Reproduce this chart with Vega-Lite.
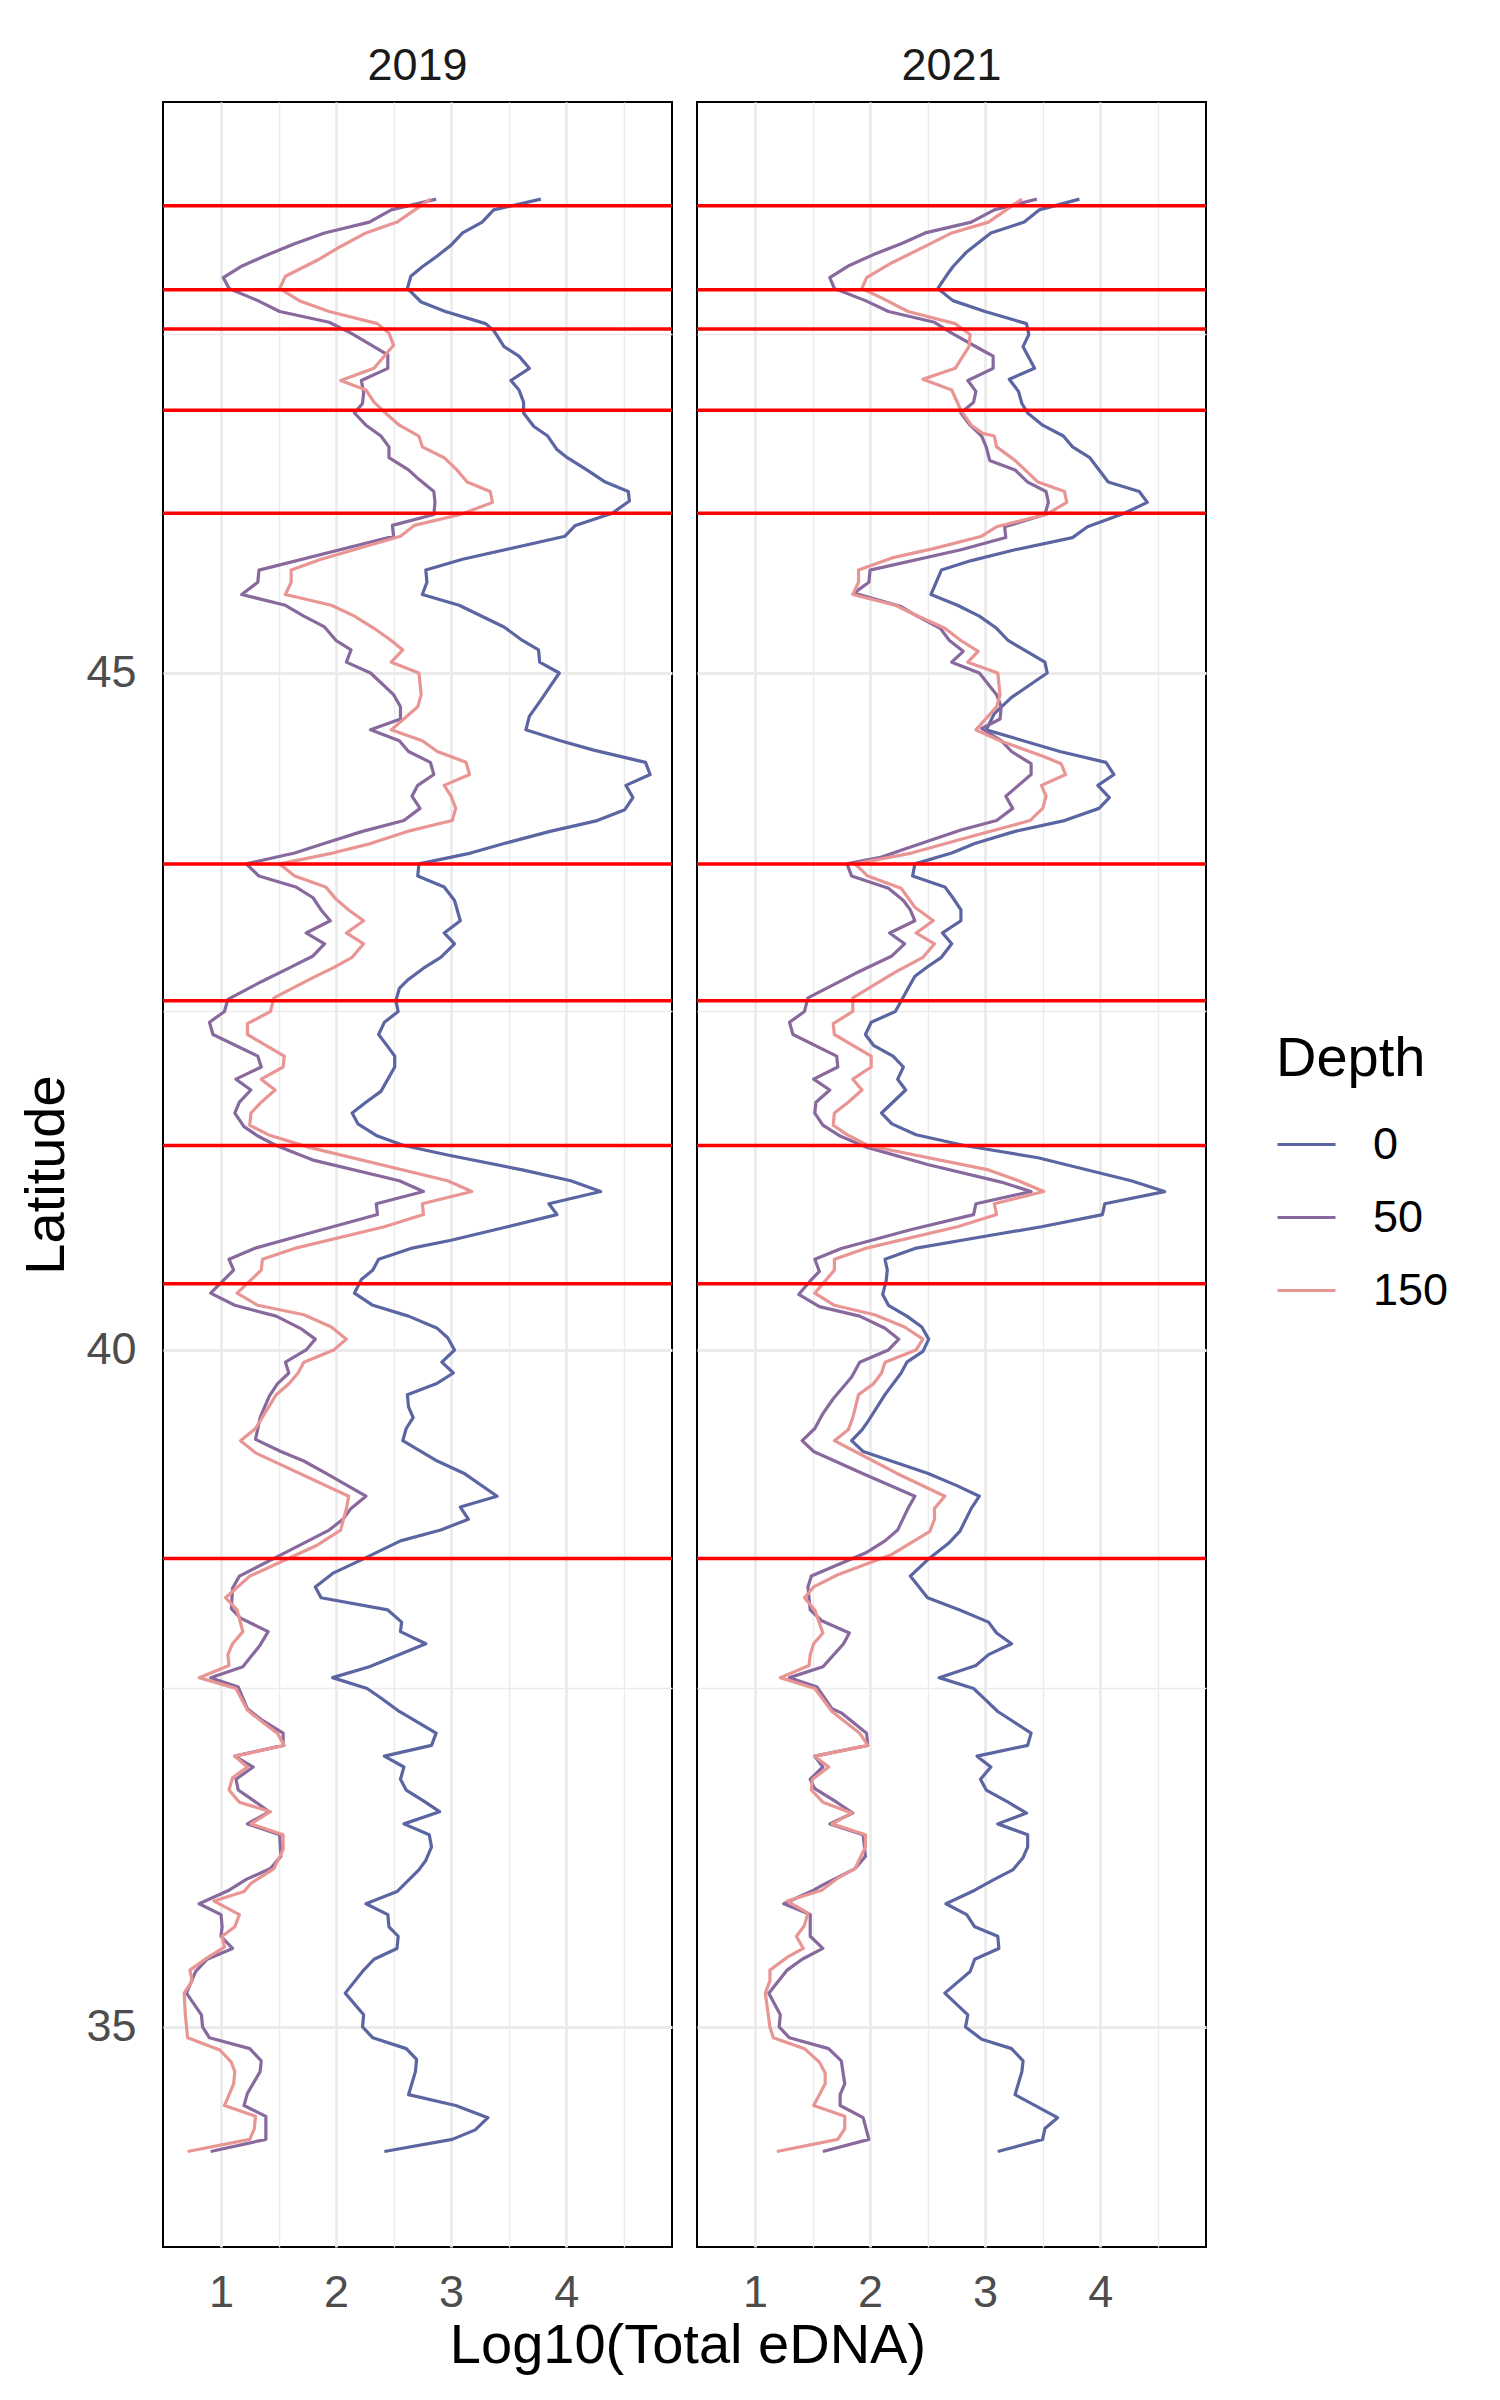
{
"$schema": "https://vega.github.io/schema/vega-lite/v6.json",
"background": "white",
"padding": {"left": 18, "top": 44, "right": 5, "bottom": 5},
"title": {"text": "Log10(Total eDNA)", "orient": "bottom", "anchor": "middle", "fontSize": 56, "fontWeight": "normal", "font": "Liberation Sans", "color": "black", "offset": 4, "dx": -46},
"data": {"values": [
{"Year":2019,"Depth":"0","Lat":48.50,"eDNA":3.78},{"Year":2019,"Depth":"0","Lat":48.42,"eDNA":3.37},{"Year":2019,"Depth":"0","Lat":48.33,"eDNA":3.27},{"Year":2019,"Depth":"0","Lat":48.25,"eDNA":3.10},{"Year":2019,"Depth":"0","Lat":48.16,"eDNA":3.00},{"Year":2019,"Depth":"0","Lat":48.08,"eDNA":2.88},{"Year":2019,"Depth":"0","Lat":48.00,"eDNA":2.75},{"Year":2019,"Depth":"0","Lat":47.93,"eDNA":2.65},{"Year":2019,"Depth":"0","Lat":47.84,"eDNA":2.62},{"Year":2019,"Depth":"0","Lat":47.74,"eDNA":2.74},{"Year":2019,"Depth":"0","Lat":47.67,"eDNA":2.95},{"Year":2019,"Depth":"0","Lat":47.58,"eDNA":3.30},{"Year":2019,"Depth":"0","Lat":47.53,"eDNA":3.37},{"Year":2019,"Depth":"0","Lat":47.41,"eDNA":3.46},{"Year":2019,"Depth":"0","Lat":47.34,"eDNA":3.59},{"Year":2019,"Depth":"0","Lat":47.25,"eDNA":3.68},{"Year":2019,"Depth":"0","Lat":47.16,"eDNA":3.52},{"Year":2019,"Depth":"0","Lat":47.09,"eDNA":3.59},{"Year":2019,"Depth":"0","Lat":47.00,"eDNA":3.63},{"Year":2019,"Depth":"0","Lat":46.92,"eDNA":3.63},{"Year":2019,"Depth":"0","Lat":46.82,"eDNA":3.72},{"Year":2019,"Depth":"0","Lat":46.75,"eDNA":3.84},{"Year":2019,"Depth":"0","Lat":46.65,"eDNA":3.92},{"Year":2019,"Depth":"0","Lat":46.59,"eDNA":4.01},{"Year":2019,"Depth":"0","Lat":46.50,"eDNA":4.18},{"Year":2019,"Depth":"0","Lat":46.41,"eDNA":4.34},{"Year":2019,"Depth":"0","Lat":46.34,"eDNA":4.54},{"Year":2019,"Depth":"0","Lat":46.27,"eDNA":4.55},{"Year":2019,"Depth":"0","Lat":46.18,"eDNA":4.40},{"Year":2019,"Depth":"0","Lat":46.09,"eDNA":4.08},{"Year":2019,"Depth":"0","Lat":46.01,"eDNA":3.99},{"Year":2019,"Depth":"0","Lat":45.84,"eDNA":3.10},{"Year":2019,"Depth":"0","Lat":45.76,"eDNA":2.78},{"Year":2019,"Depth":"0","Lat":45.67,"eDNA":2.79},{"Year":2019,"Depth":"0","Lat":45.58,"eDNA":2.75},{"Year":2019,"Depth":"0","Lat":45.50,"eDNA":3.07},{"Year":2019,"Depth":"0","Lat":45.34,"eDNA":3.46},{"Year":2019,"Depth":"0","Lat":45.24,"eDNA":3.62},{"Year":2019,"Depth":"0","Lat":45.17,"eDNA":3.76},{"Year":2019,"Depth":"0","Lat":45.08,"eDNA":3.77},{"Year":2019,"Depth":"0","Lat":45.00,"eDNA":3.94},{"Year":2019,"Depth":"0","Lat":44.80,"eDNA":3.78},{"Year":2019,"Depth":"0","Lat":44.68,"eDNA":3.68},{"Year":2019,"Depth":"0","Lat":44.58,"eDNA":3.65},{"Year":2019,"Depth":"0","Lat":44.50,"eDNA":3.95},{"Year":2019,"Depth":"0","Lat":44.43,"eDNA":4.24},{"Year":2019,"Depth":"0","Lat":44.34,"eDNA":4.69},{"Year":2019,"Depth":"0","Lat":44.25,"eDNA":4.73},{"Year":2019,"Depth":"0","Lat":44.17,"eDNA":4.52},{"Year":2019,"Depth":"0","Lat":44.08,"eDNA":4.58},{"Year":2019,"Depth":"0","Lat":43.99,"eDNA":4.51},{"Year":2019,"Depth":"0","Lat":43.91,"eDNA":4.27},{"Year":2019,"Depth":"0","Lat":43.83,"eDNA":3.86},{"Year":2019,"Depth":"0","Lat":43.74,"eDNA":3.46},{"Year":2019,"Depth":"0","Lat":43.67,"eDNA":3.17},{"Year":2019,"Depth":"0","Lat":43.59,"eDNA":2.72},{"Year":2019,"Depth":"0","Lat":43.50,"eDNA":2.71},{"Year":2019,"Depth":"0","Lat":43.42,"eDNA":2.94},{"Year":2019,"Depth":"0","Lat":43.32,"eDNA":3.03},{"Year":2019,"Depth":"0","Lat":43.17,"eDNA":3.08},{"Year":2019,"Depth":"0","Lat":43.08,"eDNA":2.94},{"Year":2019,"Depth":"0","Lat":43.00,"eDNA":3.03},{"Year":2019,"Depth":"0","Lat":42.90,"eDNA":2.91},{"Year":2019,"Depth":"0","Lat":42.82,"eDNA":2.76},{"Year":2019,"Depth":"0","Lat":42.73,"eDNA":2.62},{"Year":2019,"Depth":"0","Lat":42.67,"eDNA":2.55},{"Year":2019,"Depth":"0","Lat":42.58,"eDNA":2.52},{"Year":2019,"Depth":"0","Lat":42.50,"eDNA":2.54},{"Year":2019,"Depth":"0","Lat":42.42,"eDNA":2.42},{"Year":2019,"Depth":"0","Lat":42.33,"eDNA":2.37},{"Year":2019,"Depth":"0","Lat":42.24,"eDNA":2.45},{"Year":2019,"Depth":"0","Lat":42.17,"eDNA":2.51},{"Year":2019,"Depth":"0","Lat":42.09,"eDNA":2.51},{"Year":2019,"Depth":"0","Lat":41.91,"eDNA":2.39},{"Year":2019,"Depth":"0","Lat":41.83,"eDNA":2.26},{"Year":2019,"Depth":"0","Lat":41.75,"eDNA":2.14},{"Year":2019,"Depth":"0","Lat":41.67,"eDNA":2.19},{"Year":2019,"Depth":"0","Lat":41.58,"eDNA":2.36},{"Year":2019,"Depth":"0","Lat":41.51,"eDNA":2.59},{"Year":2019,"Depth":"0","Lat":41.44,"eDNA":2.97},{"Year":2019,"Depth":"0","Lat":41.33,"eDNA":3.62},{"Year":2019,"Depth":"0","Lat":41.25,"eDNA":4.04},{"Year":2019,"Depth":"0","Lat":41.17,"eDNA":4.30},{"Year":2019,"Depth":"0","Lat":41.08,"eDNA":3.85},{"Year":2019,"Depth":"0","Lat":41.00,"eDNA":3.92},{"Year":2019,"Depth":"0","Lat":40.91,"eDNA":3.49},{"Year":2019,"Depth":"0","Lat":40.81,"eDNA":3.00},{"Year":2019,"Depth":"0","Lat":40.75,"eDNA":2.65},{"Year":2019,"Depth":"0","Lat":40.67,"eDNA":2.37},{"Year":2019,"Depth":"0","Lat":40.59,"eDNA":2.32},{"Year":2019,"Depth":"0","Lat":40.52,"eDNA":2.22},{"Year":2019,"Depth":"0","Lat":40.42,"eDNA":2.16},{"Year":2019,"Depth":"0","Lat":40.33,"eDNA":2.32},{"Year":2019,"Depth":"0","Lat":40.25,"eDNA":2.63},{"Year":2019,"Depth":"0","Lat":40.16,"eDNA":2.88},{"Year":2019,"Depth":"0","Lat":40.09,"eDNA":2.97},{"Year":2019,"Depth":"0","Lat":40.00,"eDNA":3.03},{"Year":2019,"Depth":"0","Lat":39.91,"eDNA":2.92},{"Year":2019,"Depth":"0","Lat":39.83,"eDNA":3.02},{"Year":2019,"Depth":"0","Lat":39.75,"eDNA":2.87},{"Year":2019,"Depth":"0","Lat":39.67,"eDNA":2.62},{"Year":2019,"Depth":"0","Lat":39.58,"eDNA":2.63},{"Year":2019,"Depth":"0","Lat":39.50,"eDNA":2.67},{"Year":2019,"Depth":"0","Lat":39.42,"eDNA":2.61},{"Year":2019,"Depth":"0","Lat":39.33,"eDNA":2.58},{"Year":2019,"Depth":"0","Lat":39.18,"eDNA":2.88},{"Year":2019,"Depth":"0","Lat":39.09,"eDNA":3.11},{"Year":2019,"Depth":"0","Lat":38.92,"eDNA":3.40},{"Year":2019,"Depth":"0","Lat":38.84,"eDNA":3.08},{"Year":2019,"Depth":"0","Lat":38.75,"eDNA":3.15},{"Year":2019,"Depth":"0","Lat":38.67,"eDNA":2.91},{"Year":2019,"Depth":"0","Lat":38.59,"eDNA":2.56},{"Year":2019,"Depth":"0","Lat":38.45,"eDNA":2.22},{"Year":2019,"Depth":"0","Lat":38.35,"eDNA":1.97},{"Year":2019,"Depth":"0","Lat":38.25,"eDNA":1.82},{"Year":2019,"Depth":"0","Lat":38.17,"eDNA":1.87},{"Year":2019,"Depth":"0","Lat":38.08,"eDNA":2.45},{"Year":2019,"Depth":"0","Lat":37.99,"eDNA":2.57},{"Year":2019,"Depth":"0","Lat":37.92,"eDNA":2.56},{"Year":2019,"Depth":"0","Lat":37.83,"eDNA":2.78},{"Year":2019,"Depth":"0","Lat":37.66,"eDNA":2.29},{"Year":2019,"Depth":"0","Lat":37.58,"eDNA":1.97},{"Year":2019,"Depth":"0","Lat":37.50,"eDNA":2.27},{"Year":2019,"Depth":"0","Lat":37.43,"eDNA":2.39},{"Year":2019,"Depth":"0","Lat":37.33,"eDNA":2.55},{"Year":2019,"Depth":"0","Lat":37.17,"eDNA":2.87},{"Year":2019,"Depth":"0","Lat":37.08,"eDNA":2.83},{"Year":2019,"Depth":"0","Lat":37.00,"eDNA":2.42},{"Year":2019,"Depth":"0","Lat":36.92,"eDNA":2.59},{"Year":2019,"Depth":"0","Lat":36.83,"eDNA":2.56},{"Year":2019,"Depth":"0","Lat":36.75,"eDNA":2.61},{"Year":2019,"Depth":"0","Lat":36.67,"eDNA":2.76},{"Year":2019,"Depth":"0","Lat":36.59,"eDNA":2.90},{"Year":2019,"Depth":"0","Lat":36.50,"eDNA":2.59},{"Year":2019,"Depth":"0","Lat":36.42,"eDNA":2.81},{"Year":2019,"Depth":"0","Lat":36.33,"eDNA":2.83},{"Year":2019,"Depth":"0","Lat":36.23,"eDNA":2.78},{"Year":2019,"Depth":"0","Lat":36.16,"eDNA":2.72},{"Year":2019,"Depth":"0","Lat":36.00,"eDNA":2.53},{"Year":2019,"Depth":"0","Lat":35.91,"eDNA":2.26},{"Year":2019,"Depth":"0","Lat":35.83,"eDNA":2.45},{"Year":2019,"Depth":"0","Lat":35.74,"eDNA":2.46},{"Year":2019,"Depth":"0","Lat":35.67,"eDNA":2.54},{"Year":2019,"Depth":"0","Lat":35.58,"eDNA":2.53},{"Year":2019,"Depth":"0","Lat":35.50,"eDNA":2.33},{"Year":2019,"Depth":"0","Lat":35.41,"eDNA":2.23},{"Year":2019,"Depth":"0","Lat":35.25,"eDNA":2.08},{"Year":2019,"Depth":"0","Lat":35.09,"eDNA":2.24},{"Year":2019,"Depth":"0","Lat":35.00,"eDNA":2.23},{"Year":2019,"Depth":"0","Lat":34.92,"eDNA":2.32},{"Year":2019,"Depth":"0","Lat":34.84,"eDNA":2.61},{"Year":2019,"Depth":"0","Lat":34.76,"eDNA":2.70},{"Year":2019,"Depth":"0","Lat":34.67,"eDNA":2.69},{"Year":2019,"Depth":"0","Lat":34.50,"eDNA":2.63},{"Year":2019,"Depth":"0","Lat":34.42,"eDNA":3.04},{"Year":2019,"Depth":"0","Lat":34.33,"eDNA":3.32},{"Year":2019,"Depth":"0","Lat":34.24,"eDNA":3.21},{"Year":2019,"Depth":"0","Lat":34.17,"eDNA":3.01},{"Year":2019,"Depth":"0","Lat":34.08,"eDNA":2.42},
{"Year":2019,"Depth":"50","Lat":48.50,"eDNA":2.87},{"Year":2019,"Depth":"50","Lat":48.42,"eDNA":2.48},{"Year":2019,"Depth":"50","Lat":48.33,"eDNA":2.29},{"Year":2019,"Depth":"50","Lat":48.25,"eDNA":1.90},{"Year":2019,"Depth":"50","Lat":48.17,"eDNA":1.64},{"Year":2019,"Depth":"50","Lat":48.08,"eDNA":1.38},{"Year":2019,"Depth":"50","Lat":48.00,"eDNA":1.17},{"Year":2019,"Depth":"50","Lat":47.92,"eDNA":1.02},{"Year":2019,"Depth":"50","Lat":47.84,"eDNA":1.07},{"Year":2019,"Depth":"50","Lat":47.75,"eDNA":1.32},{"Year":2019,"Depth":"50","Lat":47.67,"eDNA":1.51},{"Year":2019,"Depth":"50","Lat":47.59,"eDNA":1.94},{"Year":2019,"Depth":"50","Lat":47.51,"eDNA":2.13},{"Year":2019,"Depth":"50","Lat":47.35,"eDNA":2.45},{"Year":2019,"Depth":"50","Lat":47.25,"eDNA":2.45},{"Year":2019,"Depth":"50","Lat":47.16,"eDNA":2.22},{"Year":2019,"Depth":"50","Lat":47.07,"eDNA":2.24},{"Year":2019,"Depth":"50","Lat":46.99,"eDNA":2.23},{"Year":2019,"Depth":"50","Lat":46.92,"eDNA":2.16},{"Year":2019,"Depth":"50","Lat":46.83,"eDNA":2.26},{"Year":2019,"Depth":"50","Lat":46.75,"eDNA":2.39},{"Year":2019,"Depth":"50","Lat":46.67,"eDNA":2.46},{"Year":2019,"Depth":"50","Lat":46.59,"eDNA":2.46},{"Year":2019,"Depth":"50","Lat":46.50,"eDNA":2.63},{"Year":2019,"Depth":"50","Lat":46.43,"eDNA":2.72},{"Year":2019,"Depth":"50","Lat":46.34,"eDNA":2.85},{"Year":2019,"Depth":"50","Lat":46.26,"eDNA":2.86},{"Year":2019,"Depth":"50","Lat":46.17,"eDNA":2.85},{"Year":2019,"Depth":"50","Lat":46.09,"eDNA":2.49},{"Year":2019,"Depth":"50","Lat":46.01,"eDNA":2.50},{"Year":2019,"Depth":"50","Lat":45.76,"eDNA":1.33},{"Year":2019,"Depth":"50","Lat":45.67,"eDNA":1.32},{"Year":2019,"Depth":"50","Lat":45.58,"eDNA":1.18},{"Year":2019,"Depth":"50","Lat":45.50,"eDNA":1.56},{"Year":2019,"Depth":"50","Lat":45.42,"eDNA":1.72},{"Year":2019,"Depth":"50","Lat":45.34,"eDNA":1.90},{"Year":2019,"Depth":"50","Lat":45.24,"eDNA":2.00},{"Year":2019,"Depth":"50","Lat":45.17,"eDNA":2.13},{"Year":2019,"Depth":"50","Lat":45.08,"eDNA":2.09},{"Year":2019,"Depth":"50","Lat":45.00,"eDNA":2.30},{"Year":2019,"Depth":"50","Lat":44.84,"eDNA":2.50},{"Year":2019,"Depth":"50","Lat":44.75,"eDNA":2.56},{"Year":2019,"Depth":"50","Lat":44.66,"eDNA":2.56},{"Year":2019,"Depth":"50","Lat":44.58,"eDNA":2.30},{"Year":2019,"Depth":"50","Lat":44.50,"eDNA":2.55},{"Year":2019,"Depth":"50","Lat":44.42,"eDNA":2.63},{"Year":2019,"Depth":"50","Lat":44.34,"eDNA":2.82},{"Year":2019,"Depth":"50","Lat":44.25,"eDNA":2.85},{"Year":2019,"Depth":"50","Lat":44.17,"eDNA":2.71},{"Year":2019,"Depth":"50","Lat":44.09,"eDNA":2.66},{"Year":2019,"Depth":"50","Lat":44.00,"eDNA":2.73},{"Year":2019,"Depth":"50","Lat":43.91,"eDNA":2.59},{"Year":2019,"Depth":"50","Lat":43.83,"eDNA":2.23},{"Year":2019,"Depth":"50","Lat":43.75,"eDNA":1.93},{"Year":2019,"Depth":"50","Lat":43.67,"eDNA":1.64},{"Year":2019,"Depth":"50","Lat":43.59,"eDNA":1.22},{"Year":2019,"Depth":"50","Lat":43.50,"eDNA":1.33},{"Year":2019,"Depth":"50","Lat":43.42,"eDNA":1.65},{"Year":2019,"Depth":"50","Lat":43.34,"eDNA":1.80},{"Year":2019,"Depth":"50","Lat":43.25,"eDNA":1.87},{"Year":2019,"Depth":"50","Lat":43.17,"eDNA":1.95},{"Year":2019,"Depth":"50","Lat":43.08,"eDNA":1.74},{"Year":2019,"Depth":"50","Lat":43.00,"eDNA":1.90},{"Year":2019,"Depth":"50","Lat":42.91,"eDNA":1.80},{"Year":2019,"Depth":"50","Lat":42.82,"eDNA":1.59},{"Year":2019,"Depth":"50","Lat":42.72,"eDNA":1.35},{"Year":2019,"Depth":"50","Lat":42.59,"eDNA":1.06},{"Year":2019,"Depth":"50","Lat":42.50,"eDNA":1.03},{"Year":2019,"Depth":"50","Lat":42.42,"eDNA":0.90},{"Year":2019,"Depth":"50","Lat":42.33,"eDNA":0.93},{"Year":2019,"Depth":"50","Lat":42.17,"eDNA":1.32},{"Year":2019,"Depth":"50","Lat":42.09,"eDNA":1.35},{"Year":2019,"Depth":"50","Lat":42.00,"eDNA":1.13},{"Year":2019,"Depth":"50","Lat":41.92,"eDNA":1.26},{"Year":2019,"Depth":"50","Lat":41.83,"eDNA":1.16},{"Year":2019,"Depth":"50","Lat":41.75,"eDNA":1.12},{"Year":2019,"Depth":"50","Lat":41.65,"eDNA":1.20},{"Year":2019,"Depth":"50","Lat":41.58,"eDNA":1.32},{"Year":2019,"Depth":"50","Lat":41.51,"eDNA":1.48},{"Year":2019,"Depth":"50","Lat":41.40,"eDNA":1.81},{"Year":2019,"Depth":"50","Lat":41.25,"eDNA":2.55},{"Year":2019,"Depth":"50","Lat":41.17,"eDNA":2.76},{"Year":2019,"Depth":"50","Lat":41.08,"eDNA":2.35},{"Year":2019,"Depth":"50","Lat":41.00,"eDNA":2.36},{"Year":2019,"Depth":"50","Lat":40.84,"eDNA":1.67},{"Year":2019,"Depth":"50","Lat":40.75,"eDNA":1.29},{"Year":2019,"Depth":"50","Lat":40.67,"eDNA":1.07},{"Year":2019,"Depth":"50","Lat":40.59,"eDNA":1.11},{"Year":2019,"Depth":"50","Lat":40.42,"eDNA":0.91},{"Year":2019,"Depth":"50","Lat":40.33,"eDNA":1.12},{"Year":2019,"Depth":"50","Lat":40.25,"eDNA":1.48},{"Year":2019,"Depth":"50","Lat":40.16,"eDNA":1.69},{"Year":2019,"Depth":"50","Lat":40.08,"eDNA":1.82},{"Year":2019,"Depth":"50","Lat":40.00,"eDNA":1.74},{"Year":2019,"Depth":"50","Lat":39.91,"eDNA":1.56},{"Year":2019,"Depth":"50","Lat":39.83,"eDNA":1.59},{"Year":2019,"Depth":"50","Lat":39.75,"eDNA":1.49},{"Year":2019,"Depth":"50","Lat":39.66,"eDNA":1.42},{"Year":2019,"Depth":"50","Lat":39.50,"eDNA":1.34},{"Year":2019,"Depth":"50","Lat":39.34,"eDNA":1.30},{"Year":2019,"Depth":"50","Lat":39.25,"eDNA":1.52},{"Year":2019,"Depth":"50","Lat":39.18,"eDNA":1.72},{"Year":2019,"Depth":"50","Lat":39.09,"eDNA":1.91},{"Year":2019,"Depth":"50","Lat":38.92,"eDNA":2.26},{"Year":2019,"Depth":"50","Lat":38.83,"eDNA":2.13},{"Year":2019,"Depth":"50","Lat":38.75,"eDNA":2.06},{"Year":2019,"Depth":"50","Lat":38.67,"eDNA":1.94},{"Year":2019,"Depth":"50","Lat":38.50,"eDNA":1.55},{"Year":2019,"Depth":"50","Lat":38.33,"eDNA":1.16},{"Year":2019,"Depth":"50","Lat":38.24,"eDNA":1.10},{"Year":2019,"Depth":"50","Lat":38.09,"eDNA":1.09},{"Year":2019,"Depth":"50","Lat":38.02,"eDNA":1.17},{"Year":2019,"Depth":"50","Lat":37.92,"eDNA":1.41},{"Year":2019,"Depth":"50","Lat":37.82,"eDNA":1.34},{"Year":2019,"Depth":"50","Lat":37.66,"eDNA":1.19},{"Year":2019,"Depth":"50","Lat":37.58,"eDNA":0.91},{"Year":2019,"Depth":"50","Lat":37.51,"eDNA":1.15},{"Year":2019,"Depth":"50","Lat":37.35,"eDNA":1.23},{"Year":2019,"Depth":"50","Lat":37.27,"eDNA":1.35},{"Year":2019,"Depth":"50","Lat":37.17,"eDNA":1.54},{"Year":2019,"Depth":"50","Lat":37.08,"eDNA":1.54},{"Year":2019,"Depth":"50","Lat":37.00,"eDNA":1.12},{"Year":2019,"Depth":"50","Lat":36.92,"eDNA":1.28},{"Year":2019,"Depth":"50","Lat":36.83,"eDNA":1.13},{"Year":2019,"Depth":"50","Lat":36.75,"eDNA":1.15},{"Year":2019,"Depth":"50","Lat":36.65,"eDNA":1.32},{"Year":2019,"Depth":"50","Lat":36.59,"eDNA":1.42},{"Year":2019,"Depth":"50","Lat":36.50,"eDNA":1.23},{"Year":2019,"Depth":"50","Lat":36.42,"eDNA":1.51},{"Year":2019,"Depth":"50","Lat":36.26,"eDNA":1.52},{"Year":2019,"Depth":"50","Lat":36.17,"eDNA":1.43},{"Year":2019,"Depth":"50","Lat":36.09,"eDNA":1.22},{"Year":2019,"Depth":"50","Lat":36.01,"eDNA":1.07},{"Year":2019,"Depth":"50","Lat":35.91,"eDNA":0.81},{"Year":2019,"Depth":"50","Lat":35.83,"eDNA":1.00},{"Year":2019,"Depth":"50","Lat":35.74,"eDNA":1.01},{"Year":2019,"Depth":"50","Lat":35.67,"eDNA":1.00},{"Year":2019,"Depth":"50","Lat":35.58,"eDNA":1.10},{"Year":2019,"Depth":"50","Lat":35.50,"eDNA":0.88},{"Year":2019,"Depth":"50","Lat":35.41,"eDNA":0.78},{"Year":2019,"Depth":"50","Lat":35.25,"eDNA":0.70},{"Year":2019,"Depth":"50","Lat":35.09,"eDNA":0.83},{"Year":2019,"Depth":"50","Lat":35.00,"eDNA":0.84},{"Year":2019,"Depth":"50","Lat":34.92,"eDNA":0.90},{"Year":2019,"Depth":"50","Lat":34.84,"eDNA":1.25},{"Year":2019,"Depth":"50","Lat":34.75,"eDNA":1.35},{"Year":2019,"Depth":"50","Lat":34.67,"eDNA":1.34},{"Year":2019,"Depth":"50","Lat":34.51,"eDNA":1.23},{"Year":2019,"Depth":"50","Lat":34.42,"eDNA":1.20},{"Year":2019,"Depth":"50","Lat":34.34,"eDNA":1.39},{"Year":2019,"Depth":"50","Lat":34.17,"eDNA":1.39},{"Year":2019,"Depth":"50","Lat":34.08,"eDNA":0.91},
{"Year":2019,"Depth":"150","Lat":48.50,"eDNA":2.82},{"Year":2019,"Depth":"150","Lat":48.33,"eDNA":2.53},{"Year":2019,"Depth":"150","Lat":48.25,"eDNA":2.26},{"Year":2019,"Depth":"150","Lat":48.15,"eDNA":2.04},{"Year":2019,"Depth":"150","Lat":48.05,"eDNA":1.84},{"Year":2019,"Depth":"150","Lat":47.93,"eDNA":1.56},{"Year":2019,"Depth":"150","Lat":47.84,"eDNA":1.51},{"Year":2019,"Depth":"150","Lat":47.75,"eDNA":1.68},{"Year":2019,"Depth":"150","Lat":47.67,"eDNA":1.94},{"Year":2019,"Depth":"150","Lat":47.58,"eDNA":2.36},{"Year":2019,"Depth":"150","Lat":47.51,"eDNA":2.46},{"Year":2019,"Depth":"150","Lat":47.42,"eDNA":2.50},{"Year":2019,"Depth":"150","Lat":47.25,"eDNA":2.33},{"Year":2019,"Depth":"150","Lat":47.16,"eDNA":2.04},{"Year":2019,"Depth":"150","Lat":47.09,"eDNA":2.26},{"Year":2019,"Depth":"150","Lat":47.00,"eDNA":2.33},{"Year":2019,"Depth":"150","Lat":46.92,"eDNA":2.43},{"Year":2019,"Depth":"150","Lat":46.83,"eDNA":2.55},{"Year":2019,"Depth":"150","Lat":46.75,"eDNA":2.72},{"Year":2019,"Depth":"150","Lat":46.67,"eDNA":2.75},{"Year":2019,"Depth":"150","Lat":46.59,"eDNA":2.94},{"Year":2019,"Depth":"150","Lat":46.50,"eDNA":3.05},{"Year":2019,"Depth":"150","Lat":46.41,"eDNA":3.14},{"Year":2019,"Depth":"150","Lat":46.34,"eDNA":3.34},{"Year":2019,"Depth":"150","Lat":46.26,"eDNA":3.36},{"Year":2019,"Depth":"150","Lat":46.17,"eDNA":3.08},{"Year":2019,"Depth":"150","Lat":46.09,"eDNA":2.68},{"Year":2019,"Depth":"150","Lat":46.01,"eDNA":2.56},{"Year":2019,"Depth":"150","Lat":45.84,"eDNA":1.87},{"Year":2019,"Depth":"150","Lat":45.76,"eDNA":1.61},{"Year":2019,"Depth":"150","Lat":45.67,"eDNA":1.61},{"Year":2019,"Depth":"150","Lat":45.58,"eDNA":1.56},{"Year":2019,"Depth":"150","Lat":45.50,"eDNA":1.96},{"Year":2019,"Depth":"150","Lat":45.42,"eDNA":2.16},{"Year":2019,"Depth":"150","Lat":45.33,"eDNA":2.33},{"Year":2019,"Depth":"150","Lat":45.24,"eDNA":2.48},{"Year":2019,"Depth":"150","Lat":45.17,"eDNA":2.58},{"Year":2019,"Depth":"150","Lat":45.08,"eDNA":2.48},{"Year":2019,"Depth":"150","Lat":45.00,"eDNA":2.72},{"Year":2019,"Depth":"150","Lat":44.84,"eDNA":2.74},{"Year":2019,"Depth":"150","Lat":44.75,"eDNA":2.71},{"Year":2019,"Depth":"150","Lat":44.58,"eDNA":2.48},{"Year":2019,"Depth":"150","Lat":44.50,"eDNA":2.75},{"Year":2019,"Depth":"150","Lat":44.42,"eDNA":2.88},{"Year":2019,"Depth":"150","Lat":44.34,"eDNA":3.13},{"Year":2019,"Depth":"150","Lat":44.25,"eDNA":3.16},{"Year":2019,"Depth":"150","Lat":44.17,"eDNA":2.94},{"Year":2019,"Depth":"150","Lat":44.09,"eDNA":3.00},{"Year":2019,"Depth":"150","Lat":44.00,"eDNA":3.04},{"Year":2019,"Depth":"150","Lat":43.91,"eDNA":3.01},{"Year":2019,"Depth":"150","Lat":43.83,"eDNA":2.62},{"Year":2019,"Depth":"150","Lat":43.74,"eDNA":2.30},{"Year":2019,"Depth":"150","Lat":43.67,"eDNA":1.97},{"Year":2019,"Depth":"150","Lat":43.59,"eDNA":1.51},{"Year":2019,"Depth":"150","Lat":43.50,"eDNA":1.64},{"Year":2019,"Depth":"150","Lat":43.42,"eDNA":1.91},{"Year":2019,"Depth":"150","Lat":43.33,"eDNA":2.00},{"Year":2019,"Depth":"150","Lat":43.25,"eDNA":2.11},{"Year":2019,"Depth":"150","Lat":43.17,"eDNA":2.24},{"Year":2019,"Depth":"150","Lat":43.08,"eDNA":2.09},{"Year":2019,"Depth":"150","Lat":43.00,"eDNA":2.24},{"Year":2019,"Depth":"150","Lat":42.90,"eDNA":2.14},{"Year":2019,"Depth":"150","Lat":42.82,"eDNA":1.97},{"Year":2019,"Depth":"150","Lat":42.75,"eDNA":1.80},{"Year":2019,"Depth":"150","Lat":42.60,"eDNA":1.46},{"Year":2019,"Depth":"150","Lat":42.50,"eDNA":1.43},{"Year":2019,"Depth":"150","Lat":42.41,"eDNA":1.23},{"Year":2019,"Depth":"150","Lat":42.33,"eDNA":1.23},{"Year":2019,"Depth":"150","Lat":42.25,"eDNA":1.39},{"Year":2019,"Depth":"150","Lat":42.17,"eDNA":1.55},{"Year":2019,"Depth":"150","Lat":42.09,"eDNA":1.54},{"Year":2019,"Depth":"150","Lat":42.00,"eDNA":1.35},{"Year":2019,"Depth":"150","Lat":41.92,"eDNA":1.47},{"Year":2019,"Depth":"150","Lat":41.83,"eDNA":1.35},{"Year":2019,"Depth":"150","Lat":41.75,"eDNA":1.26},{"Year":2019,"Depth":"150","Lat":41.66,"eDNA":1.25},{"Year":2019,"Depth":"150","Lat":41.59,"eDNA":1.41},{"Year":2019,"Depth":"150","Lat":41.50,"eDNA":1.75},{"Year":2019,"Depth":"150","Lat":41.25,"eDNA":2.97},{"Year":2019,"Depth":"150","Lat":41.17,"eDNA":3.18},{"Year":2019,"Depth":"150","Lat":41.08,"eDNA":2.75},{"Year":2019,"Depth":"150","Lat":41.00,"eDNA":2.76},{"Year":2019,"Depth":"150","Lat":40.91,"eDNA":2.42},{"Year":2019,"Depth":"150","Lat":40.75,"eDNA":1.64},{"Year":2019,"Depth":"150","Lat":40.67,"eDNA":1.36},{"Year":2019,"Depth":"150","Lat":40.59,"eDNA":1.35},{"Year":2019,"Depth":"150","Lat":40.42,"eDNA":1.14},{"Year":2019,"Depth":"150","Lat":40.33,"eDNA":1.32},{"Year":2019,"Depth":"150","Lat":40.26,"eDNA":1.72},{"Year":2019,"Depth":"150","Lat":40.17,"eDNA":1.96},{"Year":2019,"Depth":"150","Lat":40.08,"eDNA":2.09},{"Year":2019,"Depth":"150","Lat":40.00,"eDNA":1.98},{"Year":2019,"Depth":"150","Lat":39.91,"eDNA":1.72},{"Year":2019,"Depth":"150","Lat":39.83,"eDNA":1.67},{"Year":2019,"Depth":"150","Lat":39.75,"eDNA":1.59},{"Year":2019,"Depth":"150","Lat":39.67,"eDNA":1.48},{"Year":2019,"Depth":"150","Lat":39.42,"eDNA":1.30},{"Year":2019,"Depth":"150","Lat":39.33,"eDNA":1.17},{"Year":2019,"Depth":"150","Lat":39.24,"eDNA":1.30},{"Year":2019,"Depth":"150","Lat":38.92,"eDNA":2.11},{"Year":2019,"Depth":"150","Lat":38.83,"eDNA":2.09},{"Year":2019,"Depth":"150","Lat":38.67,"eDNA":2.04},{"Year":2019,"Depth":"150","Lat":38.56,"eDNA":1.84},{"Year":2019,"Depth":"150","Lat":38.33,"eDNA":1.25},{"Year":2019,"Depth":"150","Lat":38.17,"eDNA":1.04},{"Year":2019,"Depth":"150","Lat":38.08,"eDNA":1.14},{"Year":2019,"Depth":"150","Lat":37.92,"eDNA":1.19},{"Year":2019,"Depth":"150","Lat":37.83,"eDNA":1.10},{"Year":2019,"Depth":"150","Lat":37.75,"eDNA":1.06},{"Year":2019,"Depth":"150","Lat":37.67,"eDNA":1.07},{"Year":2019,"Depth":"150","Lat":37.58,"eDNA":0.81},{"Year":2019,"Depth":"150","Lat":37.50,"eDNA":1.13},{"Year":2019,"Depth":"150","Lat":37.34,"eDNA":1.23},{"Year":2019,"Depth":"150","Lat":37.24,"eDNA":1.38},{"Year":2019,"Depth":"150","Lat":37.17,"eDNA":1.49},{"Year":2019,"Depth":"150","Lat":37.08,"eDNA":1.55},{"Year":2019,"Depth":"150","Lat":37.00,"eDNA":1.12},{"Year":2019,"Depth":"150","Lat":36.92,"eDNA":1.23},{"Year":2019,"Depth":"150","Lat":36.84,"eDNA":1.10},{"Year":2019,"Depth":"150","Lat":36.75,"eDNA":1.07},{"Year":2019,"Depth":"150","Lat":36.66,"eDNA":1.16},{"Year":2019,"Depth":"150","Lat":36.59,"eDNA":1.43},{"Year":2019,"Depth":"150","Lat":36.50,"eDNA":1.26},{"Year":2019,"Depth":"150","Lat":36.42,"eDNA":1.54},{"Year":2019,"Depth":"150","Lat":36.31,"eDNA":1.54},{"Year":2019,"Depth":"150","Lat":36.17,"eDNA":1.46},{"Year":2019,"Depth":"150","Lat":36.06,"eDNA":1.26},{"Year":2019,"Depth":"150","Lat":36.00,"eDNA":1.20},{"Year":2019,"Depth":"150","Lat":35.93,"eDNA":0.94},{"Year":2019,"Depth":"150","Lat":35.83,"eDNA":1.16},{"Year":2019,"Depth":"150","Lat":35.74,"eDNA":1.12},{"Year":2019,"Depth":"150","Lat":35.67,"eDNA":1.01},{"Year":2019,"Depth":"150","Lat":35.59,"eDNA":1.03},{"Year":2019,"Depth":"150","Lat":35.51,"eDNA":0.88},{"Year":2019,"Depth":"150","Lat":35.42,"eDNA":0.73},{"Year":2019,"Depth":"150","Lat":35.34,"eDNA":0.75},{"Year":2019,"Depth":"150","Lat":35.25,"eDNA":0.68},{"Year":2019,"Depth":"150","Lat":35.09,"eDNA":0.69},{"Year":2019,"Depth":"150","Lat":34.92,"eDNA":0.71},{"Year":2019,"Depth":"150","Lat":34.83,"eDNA":0.99},{"Year":2019,"Depth":"150","Lat":34.74,"eDNA":1.09},{"Year":2019,"Depth":"150","Lat":34.67,"eDNA":1.12},{"Year":2019,"Depth":"150","Lat":34.58,"eDNA":1.11},{"Year":2019,"Depth":"150","Lat":34.42,"eDNA":1.03},{"Year":2019,"Depth":"150","Lat":34.34,"eDNA":1.30},{"Year":2019,"Depth":"150","Lat":34.25,"eDNA":1.29},{"Year":2019,"Depth":"150","Lat":34.17,"eDNA":1.25},{"Year":2019,"Depth":"150","Lat":34.08,"eDNA":0.71},
{"Year":2021,"Depth":"0","Lat":48.50,"eDNA":3.82},{"Year":2021,"Depth":"0","Lat":48.42,"eDNA":3.47},{"Year":2021,"Depth":"0","Lat":48.33,"eDNA":3.34},{"Year":2021,"Depth":"0","Lat":48.25,"eDNA":3.05},{"Year":2021,"Depth":"0","Lat":48.11,"eDNA":2.84},{"Year":2021,"Depth":"0","Lat":48.00,"eDNA":2.72},{"Year":2021,"Depth":"0","Lat":47.93,"eDNA":2.66},{"Year":2021,"Depth":"0","Lat":47.84,"eDNA":2.59},{"Year":2021,"Depth":"0","Lat":47.75,"eDNA":2.72},{"Year":2021,"Depth":"0","Lat":47.67,"eDNA":3.00},{"Year":2021,"Depth":"0","Lat":47.58,"eDNA":3.36},{"Year":2021,"Depth":"0","Lat":47.50,"eDNA":3.38},{"Year":2021,"Depth":"0","Lat":47.41,"eDNA":3.33},{"Year":2021,"Depth":"0","Lat":47.25,"eDNA":3.43},{"Year":2021,"Depth":"0","Lat":47.17,"eDNA":3.21},{"Year":2021,"Depth":"0","Lat":47.08,"eDNA":3.29},{"Year":2021,"Depth":"0","Lat":46.99,"eDNA":3.32},{"Year":2021,"Depth":"0","Lat":46.92,"eDNA":3.37},{"Year":2021,"Depth":"0","Lat":46.83,"eDNA":3.50},{"Year":2021,"Depth":"0","Lat":46.75,"eDNA":3.68},{"Year":2021,"Depth":"0","Lat":46.67,"eDNA":3.76},{"Year":2021,"Depth":"0","Lat":46.59,"eDNA":3.91},{"Year":2021,"Depth":"0","Lat":46.41,"eDNA":4.07},{"Year":2021,"Depth":"0","Lat":46.34,"eDNA":4.34},{"Year":2021,"Depth":"0","Lat":46.26,"eDNA":4.41},{"Year":2021,"Depth":"0","Lat":46.18,"eDNA":4.21},{"Year":2021,"Depth":"0","Lat":46.08,"eDNA":3.89},{"Year":2021,"Depth":"0","Lat":46.00,"eDNA":3.76},{"Year":2021,"Depth":"0","Lat":45.91,"eDNA":3.26},{"Year":2021,"Depth":"0","Lat":45.83,"eDNA":2.88},{"Year":2021,"Depth":"0","Lat":45.76,"eDNA":2.62},{"Year":2021,"Depth":"0","Lat":45.58,"eDNA":2.53},{"Year":2021,"Depth":"0","Lat":45.50,"eDNA":2.76},{"Year":2021,"Depth":"0","Lat":45.42,"eDNA":2.95},{"Year":2021,"Depth":"0","Lat":45.33,"eDNA":3.10},{"Year":2021,"Depth":"0","Lat":45.24,"eDNA":3.20},{"Year":2021,"Depth":"0","Lat":45.08,"eDNA":3.52},{"Year":2021,"Depth":"0","Lat":45.00,"eDNA":3.54},{"Year":2021,"Depth":"0","Lat":44.82,"eDNA":3.23},{"Year":2021,"Depth":"0","Lat":44.70,"eDNA":3.08},{"Year":2021,"Depth":"0","Lat":44.58,"eDNA":3.01},{"Year":2021,"Depth":"0","Lat":44.42,"eDNA":3.65},{"Year":2021,"Depth":"0","Lat":44.34,"eDNA":4.05},{"Year":2021,"Depth":"0","Lat":44.25,"eDNA":4.12},{"Year":2021,"Depth":"0","Lat":44.17,"eDNA":3.98},{"Year":2021,"Depth":"0","Lat":44.08,"eDNA":4.08},{"Year":2021,"Depth":"0","Lat":44.00,"eDNA":3.99},{"Year":2021,"Depth":"0","Lat":43.91,"eDNA":3.69},{"Year":2021,"Depth":"0","Lat":43.83,"eDNA":3.26},{"Year":2021,"Depth":"0","Lat":43.74,"eDNA":2.91},{"Year":2021,"Depth":"0","Lat":43.67,"eDNA":2.71},{"Year":2021,"Depth":"0","Lat":43.59,"eDNA":2.39},{"Year":2021,"Depth":"0","Lat":43.50,"eDNA":2.37},{"Year":2021,"Depth":"0","Lat":43.42,"eDNA":2.65},{"Year":2021,"Depth":"0","Lat":43.34,"eDNA":2.72},{"Year":2021,"Depth":"0","Lat":43.25,"eDNA":2.79},{"Year":2021,"Depth":"0","Lat":43.17,"eDNA":2.79},{"Year":2021,"Depth":"0","Lat":43.08,"eDNA":2.63},{"Year":2021,"Depth":"0","Lat":43.00,"eDNA":2.71},{"Year":2021,"Depth":"0","Lat":42.90,"eDNA":2.62},{"Year":2021,"Depth":"0","Lat":42.83,"eDNA":2.50},{"Year":2021,"Depth":"0","Lat":42.76,"eDNA":2.39},{"Year":2021,"Depth":"0","Lat":42.67,"eDNA":2.33},{"Year":2021,"Depth":"0","Lat":42.50,"eDNA":2.22},{"Year":2021,"Depth":"0","Lat":42.42,"eDNA":2.01},{"Year":2021,"Depth":"0","Lat":42.33,"eDNA":1.96},{"Year":2021,"Depth":"0","Lat":42.25,"eDNA":2.03},{"Year":2021,"Depth":"0","Lat":42.17,"eDNA":2.20},{"Year":2021,"Depth":"0","Lat":42.09,"eDNA":2.29},{"Year":2021,"Depth":"0","Lat":42.00,"eDNA":2.24},{"Year":2021,"Depth":"0","Lat":41.92,"eDNA":2.31},{"Year":2021,"Depth":"0","Lat":41.75,"eDNA":2.10},{"Year":2021,"Depth":"0","Lat":41.67,"eDNA":2.19},{"Year":2021,"Depth":"0","Lat":41.59,"eDNA":2.40},{"Year":2021,"Depth":"0","Lat":41.51,"eDNA":2.82},{"Year":2021,"Depth":"0","Lat":41.42,"eDNA":3.46},{"Year":2021,"Depth":"0","Lat":41.25,"eDNA":4.27},{"Year":2021,"Depth":"0","Lat":41.17,"eDNA":4.56},{"Year":2021,"Depth":"0","Lat":41.08,"eDNA":4.04},{"Year":2021,"Depth":"0","Lat":41.00,"eDNA":4.02},{"Year":2021,"Depth":"0","Lat":40.91,"eDNA":3.49},{"Year":2021,"Depth":"0","Lat":40.84,"eDNA":3.00},{"Year":2021,"Depth":"0","Lat":40.75,"eDNA":2.39},{"Year":2021,"Depth":"0","Lat":40.67,"eDNA":2.13},{"Year":2021,"Depth":"0","Lat":40.59,"eDNA":2.15},{"Year":2021,"Depth":"0","Lat":40.51,"eDNA":2.14},{"Year":2021,"Depth":"0","Lat":40.41,"eDNA":2.11},{"Year":2021,"Depth":"0","Lat":40.33,"eDNA":2.16},{"Year":2021,"Depth":"0","Lat":40.25,"eDNA":2.32},{"Year":2021,"Depth":"0","Lat":40.17,"eDNA":2.45},{"Year":2021,"Depth":"0","Lat":40.08,"eDNA":2.51},{"Year":2021,"Depth":"0","Lat":39.99,"eDNA":2.46},{"Year":2021,"Depth":"0","Lat":39.91,"eDNA":2.32},{"Year":2021,"Depth":"0","Lat":39.83,"eDNA":2.27},{"Year":2021,"Depth":"0","Lat":39.67,"eDNA":2.13},{"Year":2021,"Depth":"0","Lat":39.47,"eDNA":1.98},{"Year":2021,"Depth":"0","Lat":39.41,"eDNA":1.93},{"Year":2021,"Depth":"0","Lat":39.33,"eDNA":1.84},{"Year":2021,"Depth":"0","Lat":39.25,"eDNA":1.94},{"Year":2021,"Depth":"0","Lat":39.09,"eDNA":2.50},{"Year":2021,"Depth":"0","Lat":39.00,"eDNA":2.75},{"Year":2021,"Depth":"0","Lat":38.92,"eDNA":2.95},{"Year":2021,"Depth":"0","Lat":38.83,"eDNA":2.88},{"Year":2021,"Depth":"0","Lat":38.66,"eDNA":2.78},{"Year":2021,"Depth":"0","Lat":38.57,"eDNA":2.68},{"Year":2021,"Depth":"0","Lat":38.45,"eDNA":2.50},{"Year":2021,"Depth":"0","Lat":38.33,"eDNA":2.35},{"Year":2021,"Depth":"0","Lat":38.17,"eDNA":2.50},{"Year":2021,"Depth":"0","Lat":38.08,"eDNA":2.78},{"Year":2021,"Depth":"0","Lat":37.99,"eDNA":3.03},{"Year":2021,"Depth":"0","Lat":37.91,"eDNA":3.10},{"Year":2021,"Depth":"0","Lat":37.83,"eDNA":3.23},{"Year":2021,"Depth":"0","Lat":37.75,"eDNA":3.03},{"Year":2021,"Depth":"0","Lat":37.67,"eDNA":2.92},{"Year":2021,"Depth":"0","Lat":37.58,"eDNA":2.60},{"Year":2021,"Depth":"0","Lat":37.50,"eDNA":2.90},{"Year":2021,"Depth":"0","Lat":37.42,"eDNA":3.00},{"Year":2021,"Depth":"0","Lat":37.33,"eDNA":3.11},{"Year":2021,"Depth":"0","Lat":37.17,"eDNA":3.40},{"Year":2021,"Depth":"0","Lat":37.08,"eDNA":3.37},{"Year":2021,"Depth":"0","Lat":37.00,"eDNA":2.93},{"Year":2021,"Depth":"0","Lat":36.92,"eDNA":3.05},{"Year":2021,"Depth":"0","Lat":36.83,"eDNA":2.96},{"Year":2021,"Depth":"0","Lat":36.75,"eDNA":3.01},{"Year":2021,"Depth":"0","Lat":36.66,"eDNA":3.20},{"Year":2021,"Depth":"0","Lat":36.58,"eDNA":3.36},{"Year":2021,"Depth":"0","Lat":36.50,"eDNA":3.11},{"Year":2021,"Depth":"0","Lat":36.42,"eDNA":3.37},{"Year":2021,"Depth":"0","Lat":36.33,"eDNA":3.37},{"Year":2021,"Depth":"0","Lat":36.25,"eDNA":3.33},{"Year":2021,"Depth":"0","Lat":36.16,"eDNA":3.24},{"Year":2021,"Depth":"0","Lat":36.09,"eDNA":3.08},{"Year":2021,"Depth":"0","Lat":36.01,"eDNA":2.91},{"Year":2021,"Depth":"0","Lat":35.91,"eDNA":2.66},{"Year":2021,"Depth":"0","Lat":35.83,"eDNA":2.84},{"Year":2021,"Depth":"0","Lat":35.74,"eDNA":2.91},{"Year":2021,"Depth":"0","Lat":35.67,"eDNA":3.11},{"Year":2021,"Depth":"0","Lat":35.58,"eDNA":3.12},{"Year":2021,"Depth":"0","Lat":35.50,"eDNA":2.91},{"Year":2021,"Depth":"0","Lat":35.41,"eDNA":2.87},{"Year":2021,"Depth":"0","Lat":35.25,"eDNA":2.65},{"Year":2021,"Depth":"0","Lat":35.09,"eDNA":2.85},{"Year":2021,"Depth":"0","Lat":35.00,"eDNA":2.83},{"Year":2021,"Depth":"0","Lat":34.91,"eDNA":2.97},{"Year":2021,"Depth":"0","Lat":34.84,"eDNA":3.23},{"Year":2021,"Depth":"0","Lat":34.75,"eDNA":3.33},{"Year":2021,"Depth":"0","Lat":34.67,"eDNA":3.32},{"Year":2021,"Depth":"0","Lat":34.50,"eDNA":3.26},{"Year":2021,"Depth":"0","Lat":34.33,"eDNA":3.63},{"Year":2021,"Depth":"0","Lat":34.25,"eDNA":3.52},{"Year":2021,"Depth":"0","Lat":34.17,"eDNA":3.50},{"Year":2021,"Depth":"0","Lat":34.08,"eDNA":3.11},
{"Year":2021,"Depth":"50","Lat":48.50,"eDNA":3.45},{"Year":2021,"Depth":"50","Lat":48.42,"eDNA":3.08},{"Year":2021,"Depth":"50","Lat":48.33,"eDNA":2.88},{"Year":2021,"Depth":"50","Lat":48.25,"eDNA":2.48},{"Year":2021,"Depth":"50","Lat":48.17,"eDNA":2.27},{"Year":2021,"Depth":"50","Lat":48.09,"eDNA":2.03},{"Year":2021,"Depth":"50","Lat":48.01,"eDNA":1.82},{"Year":2021,"Depth":"50","Lat":47.92,"eDNA":1.65},{"Year":2021,"Depth":"50","Lat":47.84,"eDNA":1.69},{"Year":2021,"Depth":"50","Lat":47.75,"eDNA":1.96},{"Year":2021,"Depth":"50","Lat":47.67,"eDNA":2.16},{"Year":2021,"Depth":"50","Lat":47.59,"eDNA":2.56},{"Year":2021,"Depth":"50","Lat":47.51,"eDNA":2.71},{"Year":2021,"Depth":"50","Lat":47.40,"eDNA":2.94},{"Year":2021,"Depth":"50","Lat":47.34,"eDNA":3.07},{"Year":2021,"Depth":"50","Lat":47.25,"eDNA":3.07},{"Year":2021,"Depth":"50","Lat":47.16,"eDNA":2.85},{"Year":2021,"Depth":"50","Lat":47.08,"eDNA":2.92},{"Year":2021,"Depth":"50","Lat":47.00,"eDNA":2.90},{"Year":2021,"Depth":"50","Lat":46.92,"eDNA":2.79},{"Year":2021,"Depth":"50","Lat":46.83,"eDNA":2.87},{"Year":2021,"Depth":"50","Lat":46.75,"eDNA":2.97},{"Year":2021,"Depth":"50","Lat":46.67,"eDNA":3.01},{"Year":2021,"Depth":"50","Lat":46.57,"eDNA":3.04},{"Year":2021,"Depth":"50","Lat":46.50,"eDNA":3.26},{"Year":2021,"Depth":"50","Lat":46.41,"eDNA":3.37},{"Year":2021,"Depth":"50","Lat":46.34,"eDNA":3.53},{"Year":2021,"Depth":"50","Lat":46.26,"eDNA":3.55},{"Year":2021,"Depth":"50","Lat":46.17,"eDNA":3.52},{"Year":2021,"Depth":"50","Lat":46.08,"eDNA":3.17},{"Year":2021,"Depth":"50","Lat":46.00,"eDNA":3.18},{"Year":2021,"Depth":"50","Lat":45.91,"eDNA":2.79},{"Year":2021,"Depth":"50","Lat":45.76,"eDNA":2.00},{"Year":2021,"Depth":"50","Lat":45.67,"eDNA":1.99},{"Year":2021,"Depth":"50","Lat":45.59,"eDNA":1.86},{"Year":2021,"Depth":"50","Lat":45.49,"eDNA":2.27},{"Year":2021,"Depth":"50","Lat":45.43,"eDNA":2.39},{"Year":2021,"Depth":"50","Lat":45.33,"eDNA":2.61},{"Year":2021,"Depth":"50","Lat":45.24,"eDNA":2.69},{"Year":2021,"Depth":"50","Lat":45.16,"eDNA":2.81},{"Year":2021,"Depth":"50","Lat":45.08,"eDNA":2.71},{"Year":2021,"Depth":"50","Lat":45.00,"eDNA":2.95},{"Year":2021,"Depth":"50","Lat":44.84,"eDNA":3.10},{"Year":2021,"Depth":"50","Lat":44.75,"eDNA":3.14},{"Year":2021,"Depth":"50","Lat":44.66,"eDNA":3.13},{"Year":2021,"Depth":"50","Lat":44.59,"eDNA":2.97},{"Year":2021,"Depth":"50","Lat":44.50,"eDNA":3.14},{"Year":2021,"Depth":"50","Lat":44.42,"eDNA":3.23},{"Year":2021,"Depth":"50","Lat":44.33,"eDNA":3.40},{"Year":2021,"Depth":"50","Lat":44.25,"eDNA":3.40},{"Year":2021,"Depth":"50","Lat":44.17,"eDNA":3.29},{"Year":2021,"Depth":"50","Lat":44.09,"eDNA":3.18},{"Year":2021,"Depth":"50","Lat":44.00,"eDNA":3.24},{"Year":2021,"Depth":"50","Lat":43.91,"eDNA":3.10},{"Year":2021,"Depth":"50","Lat":43.84,"eDNA":2.79},{"Year":2021,"Depth":"50","Lat":43.69,"eDNA":2.27},{"Year":2021,"Depth":"50","Lat":43.64,"eDNA":2.10},{"Year":2021,"Depth":"50","Lat":43.59,"eDNA":1.80},{"Year":2021,"Depth":"50","Lat":43.50,"eDNA":1.84},{"Year":2021,"Depth":"50","Lat":43.41,"eDNA":2.16},{"Year":2021,"Depth":"50","Lat":43.32,"eDNA":2.29},{"Year":2021,"Depth":"50","Lat":43.25,"eDNA":2.35},{"Year":2021,"Depth":"50","Lat":43.17,"eDNA":2.39},{"Year":2021,"Depth":"50","Lat":43.08,"eDNA":2.17},{"Year":2021,"Depth":"50","Lat":43.00,"eDNA":2.30},{"Year":2021,"Depth":"50","Lat":42.91,"eDNA":2.19},{"Year":2021,"Depth":"50","Lat":42.78,"eDNA":1.87},{"Year":2021,"Depth":"50","Lat":42.60,"eDNA":1.46},{"Year":2021,"Depth":"50","Lat":42.50,"eDNA":1.43},{"Year":2021,"Depth":"50","Lat":42.42,"eDNA":1.30},{"Year":2021,"Depth":"50","Lat":42.33,"eDNA":1.33},{"Year":2021,"Depth":"50","Lat":42.17,"eDNA":1.71},{"Year":2021,"Depth":"50","Lat":42.09,"eDNA":1.72},{"Year":2021,"Depth":"50","Lat":42.00,"eDNA":1.51},{"Year":2021,"Depth":"50","Lat":41.92,"eDNA":1.65},{"Year":2021,"Depth":"50","Lat":41.83,"eDNA":1.53},{"Year":2021,"Depth":"50","Lat":41.75,"eDNA":1.52},{"Year":2021,"Depth":"50","Lat":41.66,"eDNA":1.59},{"Year":2021,"Depth":"50","Lat":41.58,"eDNA":1.74},{"Year":2021,"Depth":"50","Lat":41.50,"eDNA":1.96},{"Year":2021,"Depth":"50","Lat":41.37,"eDNA":2.50},{"Year":2021,"Depth":"50","Lat":41.24,"eDNA":3.14},{"Year":2021,"Depth":"50","Lat":41.17,"eDNA":3.40},{"Year":2021,"Depth":"50","Lat":41.08,"eDNA":2.92},{"Year":2021,"Depth":"50","Lat":41.00,"eDNA":2.90},{"Year":2021,"Depth":"50","Lat":40.89,"eDNA":2.36},{"Year":2021,"Depth":"50","Lat":40.75,"eDNA":1.75},{"Year":2021,"Depth":"50","Lat":40.67,"eDNA":1.52},{"Year":2021,"Depth":"50","Lat":40.58,"eDNA":1.56},{"Year":2021,"Depth":"50","Lat":40.51,"eDNA":1.48},{"Year":2021,"Depth":"50","Lat":40.41,"eDNA":1.38},{"Year":2021,"Depth":"50","Lat":40.32,"eDNA":1.56},{"Year":2021,"Depth":"50","Lat":40.25,"eDNA":1.91},{"Year":2021,"Depth":"50","Lat":40.16,"eDNA":2.13},{"Year":2021,"Depth":"50","Lat":40.08,"eDNA":2.25},{"Year":2021,"Depth":"50","Lat":40.00,"eDNA":2.16},{"Year":2021,"Depth":"50","Lat":39.91,"eDNA":1.91},{"Year":2021,"Depth":"50","Lat":39.80,"eDNA":1.84},{"Year":2021,"Depth":"50","Lat":39.64,"eDNA":1.68},{"Year":2021,"Depth":"50","Lat":39.53,"eDNA":1.59},{"Year":2021,"Depth":"50","Lat":39.42,"eDNA":1.52},{"Year":2021,"Depth":"50","Lat":39.33,"eDNA":1.41},{"Year":2021,"Depth":"50","Lat":39.25,"eDNA":1.51},{"Year":2021,"Depth":"50","Lat":39.09,"eDNA":1.93},{"Year":2021,"Depth":"50","Lat":38.92,"eDNA":2.39},{"Year":2021,"Depth":"50","Lat":38.83,"eDNA":2.33},{"Year":2021,"Depth":"50","Lat":38.67,"eDNA":2.24},{"Year":2021,"Depth":"50","Lat":38.59,"eDNA":2.13},{"Year":2021,"Depth":"50","Lat":38.50,"eDNA":1.96},{"Year":2021,"Depth":"50","Lat":38.33,"eDNA":1.49},{"Year":2021,"Depth":"50","Lat":38.25,"eDNA":1.46},{"Year":2021,"Depth":"50","Lat":38.08,"eDNA":1.48},{"Year":2021,"Depth":"50","Lat":38.00,"eDNA":1.58},{"Year":2021,"Depth":"50","Lat":37.91,"eDNA":1.82},{"Year":2021,"Depth":"50","Lat":37.83,"eDNA":1.77},{"Year":2021,"Depth":"50","Lat":37.66,"eDNA":1.59},{"Year":2021,"Depth":"50","Lat":37.58,"eDNA":1.30},{"Year":2021,"Depth":"50","Lat":37.51,"eDNA":1.54},{"Year":2021,"Depth":"50","Lat":37.35,"eDNA":1.67},{"Year":2021,"Depth":"50","Lat":37.32,"eDNA":1.75},{"Year":2021,"Depth":"50","Lat":37.17,"eDNA":1.97},{"Year":2021,"Depth":"50","Lat":37.08,"eDNA":1.98},{"Year":2021,"Depth":"50","Lat":37.00,"eDNA":1.52},{"Year":2021,"Depth":"50","Lat":36.92,"eDNA":1.59},{"Year":2021,"Depth":"50","Lat":36.83,"eDNA":1.48},{"Year":2021,"Depth":"50","Lat":36.76,"eDNA":1.52},{"Year":2021,"Depth":"50","Lat":36.66,"eDNA":1.71},{"Year":2021,"Depth":"50","Lat":36.58,"eDNA":1.85},{"Year":2021,"Depth":"50","Lat":36.50,"eDNA":1.65},{"Year":2021,"Depth":"50","Lat":36.42,"eDNA":1.94},{"Year":2021,"Depth":"50","Lat":36.26,"eDNA":1.96},{"Year":2021,"Depth":"50","Lat":36.17,"eDNA":1.87},{"Year":2021,"Depth":"50","Lat":36.05,"eDNA":1.59},{"Year":2021,"Depth":"50","Lat":36.01,"eDNA":1.51},{"Year":2021,"Depth":"50","Lat":35.91,"eDNA":1.25},{"Year":2021,"Depth":"50","Lat":35.83,"eDNA":1.48},{"Year":2021,"Depth":"50","Lat":35.67,"eDNA":1.48},{"Year":2021,"Depth":"50","Lat":35.58,"eDNA":1.59},{"Year":2021,"Depth":"50","Lat":35.50,"eDNA":1.41},{"Year":2021,"Depth":"50","Lat":35.42,"eDNA":1.28},{"Year":2021,"Depth":"50","Lat":35.25,"eDNA":1.12},{"Year":2021,"Depth":"50","Lat":35.09,"eDNA":1.22},{"Year":2021,"Depth":"50","Lat":35.00,"eDNA":1.21},{"Year":2021,"Depth":"50","Lat":34.92,"eDNA":1.30},{"Year":2021,"Depth":"50","Lat":34.84,"eDNA":1.64},{"Year":2021,"Depth":"50","Lat":34.75,"eDNA":1.75},{"Year":2021,"Depth":"50","Lat":34.58,"eDNA":1.78},{"Year":2021,"Depth":"50","Lat":34.50,"eDNA":1.74},{"Year":2021,"Depth":"50","Lat":34.42,"eDNA":1.74},{"Year":2021,"Depth":"50","Lat":34.33,"eDNA":1.94},{"Year":2021,"Depth":"50","Lat":34.17,"eDNA":1.99},{"Year":2021,"Depth":"50","Lat":34.08,"eDNA":1.59},
{"Year":2021,"Depth":"150","Lat":48.50,"eDNA":3.32},{"Year":2021,"Depth":"150","Lat":48.33,"eDNA":3.03},{"Year":2021,"Depth":"150","Lat":48.25,"eDNA":2.71},{"Year":2021,"Depth":"150","Lat":48.16,"eDNA":2.50},{"Year":2021,"Depth":"150","Lat":48.03,"eDNA":2.19},{"Year":2021,"Depth":"150","Lat":47.92,"eDNA":1.97},{"Year":2021,"Depth":"150","Lat":47.84,"eDNA":1.93},{"Year":2021,"Depth":"150","Lat":47.77,"eDNA":2.10},{"Year":2021,"Depth":"150","Lat":47.67,"eDNA":2.33},{"Year":2021,"Depth":"150","Lat":47.58,"eDNA":2.74},{"Year":2021,"Depth":"150","Lat":47.50,"eDNA":2.87},{"Year":2021,"Depth":"150","Lat":47.41,"eDNA":2.86},{"Year":2021,"Depth":"150","Lat":47.25,"eDNA":2.74},{"Year":2021,"Depth":"150","Lat":47.17,"eDNA":2.46},{"Year":2021,"Depth":"150","Lat":47.09,"eDNA":2.71},{"Year":2021,"Depth":"150","Lat":46.94,"eDNA":2.79},{"Year":2021,"Depth":"150","Lat":46.83,"eDNA":2.88},{"Year":2021,"Depth":"150","Lat":46.77,"eDNA":2.98},{"Year":2021,"Depth":"150","Lat":46.75,"eDNA":3.08},{"Year":2021,"Depth":"150","Lat":46.67,"eDNA":3.10},{"Year":2021,"Depth":"150","Lat":46.57,"eDNA":3.26},{"Year":2021,"Depth":"150","Lat":46.41,"eDNA":3.46},{"Year":2021,"Depth":"150","Lat":46.34,"eDNA":3.69},{"Year":2021,"Depth":"150","Lat":46.26,"eDNA":3.71},{"Year":2021,"Depth":"150","Lat":46.17,"eDNA":3.53},{"Year":2021,"Depth":"150","Lat":46.08,"eDNA":3.10},{"Year":2021,"Depth":"150","Lat":46.01,"eDNA":2.97},{"Year":2021,"Depth":"150","Lat":45.92,"eDNA":2.56},{"Year":2021,"Depth":"150","Lat":45.85,"eDNA":2.19},{"Year":2021,"Depth":"150","Lat":45.76,"eDNA":1.90},{"Year":2021,"Depth":"150","Lat":45.67,"eDNA":1.90},{"Year":2021,"Depth":"150","Lat":45.58,"eDNA":1.85},{"Year":2021,"Depth":"150","Lat":45.50,"eDNA":2.22},{"Year":2021,"Depth":"150","Lat":45.43,"eDNA":2.39},{"Year":2021,"Depth":"150","Lat":45.33,"eDNA":2.65},{"Year":2021,"Depth":"150","Lat":45.24,"eDNA":2.79},{"Year":2021,"Depth":"150","Lat":45.16,"eDNA":2.94},{"Year":2021,"Depth":"150","Lat":45.08,"eDNA":2.85},{"Year":2021,"Depth":"150","Lat":45.00,"eDNA":3.11},{"Year":2021,"Depth":"150","Lat":44.84,"eDNA":3.13},{"Year":2021,"Depth":"150","Lat":44.75,"eDNA":3.10},{"Year":2021,"Depth":"150","Lat":44.58,"eDNA":2.92},{"Year":2021,"Depth":"150","Lat":44.50,"eDNA":3.13},{"Year":2021,"Depth":"150","Lat":44.38,"eDNA":3.52},{"Year":2021,"Depth":"150","Lat":44.33,"eDNA":3.66},{"Year":2021,"Depth":"150","Lat":44.25,"eDNA":3.70},{"Year":2021,"Depth":"150","Lat":44.17,"eDNA":3.49},{"Year":2021,"Depth":"150","Lat":44.09,"eDNA":3.53},{"Year":2021,"Depth":"150","Lat":44.00,"eDNA":3.50},{"Year":2021,"Depth":"150","Lat":43.91,"eDNA":3.39},{"Year":2021,"Depth":"150","Lat":43.80,"eDNA":2.91},{"Year":2021,"Depth":"150","Lat":43.67,"eDNA":2.36},{"Year":2021,"Depth":"150","Lat":43.59,"eDNA":1.87},{"Year":2021,"Depth":"150","Lat":43.50,"eDNA":1.98},{"Year":2021,"Depth":"150","Lat":43.41,"eDNA":2.27},{"Year":2021,"Depth":"150","Lat":43.27,"eDNA":2.39},{"Year":2021,"Depth":"150","Lat":43.17,"eDNA":2.55},{"Year":2021,"Depth":"150","Lat":43.08,"eDNA":2.40},{"Year":2021,"Depth":"150","Lat":43.00,"eDNA":2.56},{"Year":2021,"Depth":"150","Lat":42.90,"eDNA":2.46},{"Year":2021,"Depth":"150","Lat":42.79,"eDNA":2.22},{"Year":2021,"Depth":"150","Lat":42.60,"eDNA":1.85},{"Year":2021,"Depth":"150","Lat":42.50,"eDNA":1.85},{"Year":2021,"Depth":"150","Lat":42.41,"eDNA":1.68},{"Year":2021,"Depth":"150","Lat":42.33,"eDNA":1.69},{"Year":2021,"Depth":"150","Lat":42.17,"eDNA":2.01},{"Year":2021,"Depth":"150","Lat":42.09,"eDNA":2.01},{"Year":2021,"Depth":"150","Lat":42.00,"eDNA":1.85},{"Year":2021,"Depth":"150","Lat":41.92,"eDNA":1.93},{"Year":2021,"Depth":"150","Lat":41.83,"eDNA":1.81},{"Year":2021,"Depth":"150","Lat":41.75,"eDNA":1.69},{"Year":2021,"Depth":"150","Lat":41.66,"eDNA":1.68},{"Year":2021,"Depth":"150","Lat":41.59,"eDNA":1.80},{"Year":2021,"Depth":"150","Lat":41.51,"eDNA":1.98},{"Year":2021,"Depth":"150","Lat":41.33,"eDNA":3.03},{"Year":2021,"Depth":"150","Lat":41.25,"eDNA":3.29},{"Year":2021,"Depth":"150","Lat":41.17,"eDNA":3.51},{"Year":2021,"Depth":"150","Lat":41.08,"eDNA":3.08},{"Year":2021,"Depth":"150","Lat":41.00,"eDNA":3.10},{"Year":2021,"Depth":"150","Lat":40.91,"eDNA":2.76},{"Year":2021,"Depth":"150","Lat":40.75,"eDNA":1.96},{"Year":2021,"Depth":"150","Lat":40.67,"eDNA":1.69},{"Year":2021,"Depth":"150","Lat":40.59,"eDNA":1.69},{"Year":2021,"Depth":"150","Lat":40.42,"eDNA":1.52},{"Year":2021,"Depth":"150","Lat":40.33,"eDNA":1.69},{"Year":2021,"Depth":"150","Lat":40.26,"eDNA":2.04},{"Year":2021,"Depth":"150","Lat":40.17,"eDNA":2.30},{"Year":2021,"Depth":"150","Lat":40.08,"eDNA":2.46},{"Year":2021,"Depth":"150","Lat":40.00,"eDNA":2.40},{"Year":2021,"Depth":"150","Lat":39.91,"eDNA":2.13},{"Year":2021,"Depth":"150","Lat":39.83,"eDNA":2.10},{"Year":2021,"Depth":"150","Lat":39.75,"eDNA":2.03},{"Year":2021,"Depth":"150","Lat":39.67,"eDNA":1.90},{"Year":2021,"Depth":"150","Lat":39.50,"eDNA":1.85},{"Year":2021,"Depth":"150","Lat":39.41,"eDNA":1.81},{"Year":2021,"Depth":"150","Lat":39.33,"eDNA":1.69},{"Year":2021,"Depth":"150","Lat":39.25,"eDNA":1.87},{"Year":2021,"Depth":"150","Lat":39.09,"eDNA":2.23},{"Year":2021,"Depth":"150","Lat":38.92,"eDNA":2.65},{"Year":2021,"Depth":"150","Lat":38.83,"eDNA":2.56},{"Year":2021,"Depth":"150","Lat":38.75,"eDNA":2.56},{"Year":2021,"Depth":"150","Lat":38.66,"eDNA":2.52},{"Year":2021,"Depth":"150","Lat":38.49,"eDNA":2.19},{"Year":2021,"Depth":"150","Lat":38.34,"eDNA":1.72},{"Year":2021,"Depth":"150","Lat":38.25,"eDNA":1.51},{"Year":2021,"Depth":"150","Lat":38.17,"eDNA":1.43},{"Year":2021,"Depth":"150","Lat":38.08,"eDNA":1.52},{"Year":2021,"Depth":"150","Lat":37.91,"eDNA":1.59},{"Year":2021,"Depth":"150","Lat":37.83,"eDNA":1.51},{"Year":2021,"Depth":"150","Lat":37.75,"eDNA":1.48},{"Year":2021,"Depth":"150","Lat":37.67,"eDNA":1.47},{"Year":2021,"Depth":"150","Lat":37.58,"eDNA":1.22},{"Year":2021,"Depth":"150","Lat":37.50,"eDNA":1.52},{"Year":2021,"Depth":"150","Lat":37.33,"eDNA":1.67},{"Year":2021,"Depth":"150","Lat":37.17,"eDNA":1.91},{"Year":2021,"Depth":"150","Lat":37.08,"eDNA":1.98},{"Year":2021,"Depth":"150","Lat":37.00,"eDNA":1.52},{"Year":2021,"Depth":"150","Lat":36.92,"eDNA":1.64},{"Year":2021,"Depth":"150","Lat":36.83,"eDNA":1.50},{"Year":2021,"Depth":"150","Lat":36.75,"eDNA":1.49},{"Year":2021,"Depth":"150","Lat":36.66,"eDNA":1.59},{"Year":2021,"Depth":"150","Lat":36.58,"eDNA":1.84},{"Year":2021,"Depth":"150","Lat":36.50,"eDNA":1.67},{"Year":2021,"Depth":"150","Lat":36.42,"eDNA":1.96},{"Year":2021,"Depth":"150","Lat":36.33,"eDNA":1.96},{"Year":2021,"Depth":"150","Lat":36.17,"eDNA":1.87},{"Year":2021,"Depth":"150","Lat":36.10,"eDNA":1.72},{"Year":2021,"Depth":"150","Lat":36.01,"eDNA":1.58},{"Year":2021,"Depth":"150","Lat":35.93,"eDNA":1.28},{"Year":2021,"Depth":"150","Lat":35.84,"eDNA":1.46},{"Year":2021,"Depth":"150","Lat":35.75,"eDNA":1.43},{"Year":2021,"Depth":"150","Lat":35.67,"eDNA":1.36},{"Year":2021,"Depth":"150","Lat":35.58,"eDNA":1.42},{"Year":2021,"Depth":"150","Lat":35.52,"eDNA":1.29},{"Year":2021,"Depth":"150","Lat":35.42,"eDNA":1.13},{"Year":2021,"Depth":"150","Lat":35.34,"eDNA":1.13},{"Year":2021,"Depth":"150","Lat":35.25,"eDNA":1.09},{"Year":2021,"Depth":"150","Lat":35.00,"eDNA":1.13},{"Year":2021,"Depth":"150","Lat":34.92,"eDNA":1.16},{"Year":2021,"Depth":"150","Lat":34.84,"eDNA":1.43},{"Year":2021,"Depth":"150","Lat":34.74,"eDNA":1.56},{"Year":2021,"Depth":"150","Lat":34.66,"eDNA":1.61},{"Year":2021,"Depth":"150","Lat":34.58,"eDNA":1.61},{"Year":2021,"Depth":"150","Lat":34.50,"eDNA":1.56},{"Year":2021,"Depth":"150","Lat":34.42,"eDNA":1.51},{"Year":2021,"Depth":"150","Lat":34.34,"eDNA":1.78},{"Year":2021,"Depth":"150","Lat":34.25,"eDNA":1.78},{"Year":2021,"Depth":"150","Lat":34.17,"eDNA":1.72},{"Year":2021,"Depth":"150","Lat":34.08,"eDNA":1.19},
{"Year":2019,"Boundary":48.45},{"Year":2019,"Boundary":47.83},{"Year":2019,"Boundary":47.54},{"Year":2019,"Boundary":46.94},{"Year":2019,"Boundary":46.18},{"Year":2019,"Boundary":43.59},{"Year":2019,"Boundary":42.58},{"Year":2019,"Boundary":41.51},{"Year":2019,"Boundary":40.49},{"Year":2019,"Boundary":38.46},
{"Year":2021,"Boundary":48.45},{"Year":2021,"Boundary":47.83},{"Year":2021,"Boundary":47.54},{"Year":2021,"Boundary":46.94},{"Year":2021,"Boundary":46.18},{"Year":2021,"Boundary":43.59},{"Year":2021,"Boundary":42.58},{"Year":2021,"Boundary":41.51},{"Year":2021,"Boundary":40.49},{"Year":2021,"Boundary":38.46}
]},
"facet": {"column": {"field": "Year", "type": "ordinal", "header": {"title": null, "labelFontSize": 45, "labelColor": "#1A1A1A", "labelFont": "Liberation Sans", "labelPadding": 12}}},
"spacing": 19,
"spec": {
  "width": 509,
  "height": 2145,
  "layer": [
    {
      "transform": [{"filter": "isValid(datum.eDNA)"}],
      "mark": {"type": "line", "strokeWidth": 3.2, "strokeJoin": "round"},
      "encoding": {
        "x": {"field": "eDNA", "type": "quantitative", "title": null,
              "scale": {"domain": [0.496, 4.92], "nice": false, "zero": false},
              "axis": {"values": [1, 1.5, 2, 2.5, 3, 3.5, 4, 4.5], "labelExpr": "datum.value % 1 === 0 ? format(datum.value, 'd') : ''",
                       "gridWidth": {"condition": {"test": "datum.value % 1 === 0", "value": 2.8}, "value": 1.4},
                       "labelPadding": 22, "labelOverlap": false}},
        "y": {"field": "Lat", "type": "quantitative", "title": "Latitude",
              "scale": {"domain": [33.375, 49.217], "nice": false, "zero": false},
              "axis": {"values": [35, 37.5, 40, 42.5, 45, 47.5], "labelExpr": "datum.value % 5 === 0 ? format(datum.value, 'd') : ''",
                       "gridWidth": {"condition": {"test": "datum.value % 5 === 0", "value": 2.8}, "value": 1.4},
                       "labelPadding": 24, "titlePadding": 10, "labelOverlap": false}},
        "color": {"field": "Depth", "type": "nominal", "sort": ["0", "50", "150"],
                  "scale": {"domain": ["0", "50", "150"], "range": ["#5B65A1", "#88699E", "#E89593"]},
                  "legend": {"orient": "none", "legendX": 1113, "legendY": 930, "title": "Depth",
                             "titleFontSize": 56, "titleFontWeight": "normal", "titleColor": "black", "titleFont": "Liberation Sans",
                             "labelFontSize": 45, "labelColor": "black", "labelFont": "Liberation Sans",
                             "symbolType": "stroke", "symbolSize": 3364, "symbolStrokeWidth": 3,
                             "rowPadding": 19, "labelOffset": 36, "titlePadding": 26}},
        "order": {"field": "Lat", "type": "quantitative"}
      }
    },
    {
      "transform": [{"filter": "isValid(datum.Boundary)"}],
      "mark": {"type": "rule", "color": "#FF0000", "strokeWidth": 3.5},
      "encoding": {
        "y": {"field": "Boundary", "type": "quantitative", "title": "Latitude",
              "axis": {"values": [35, 37.5, 40, 42.5, 45, 47.5], "labelExpr": "datum.value % 5 === 0 ? format(datum.value, 'd') : ''",
                       "gridWidth": {"condition": {"test": "datum.value % 5 === 0", "value": 2.8}, "value": 1.4},
                       "labelPadding": 24, "titlePadding": 10, "labelOverlap": false}}
      }
    }
  ]
},
"config": {
  "font": "Liberation Sans",
  "view": {"stroke": "black", "strokeWidth": 2},
  "axis": {"domain": false, "ticks": false, "tickSize": 0, "gridColor": "#EBEBEB",
           "labelFontSize": 45, "labelColor": "#4D4D4D", "labelFont": "Liberation Sans",
           "titleFontSize": 56, "titleFontWeight": "normal", "titleColor": "black", "titleFont": "Liberation Sans"}
}
}
